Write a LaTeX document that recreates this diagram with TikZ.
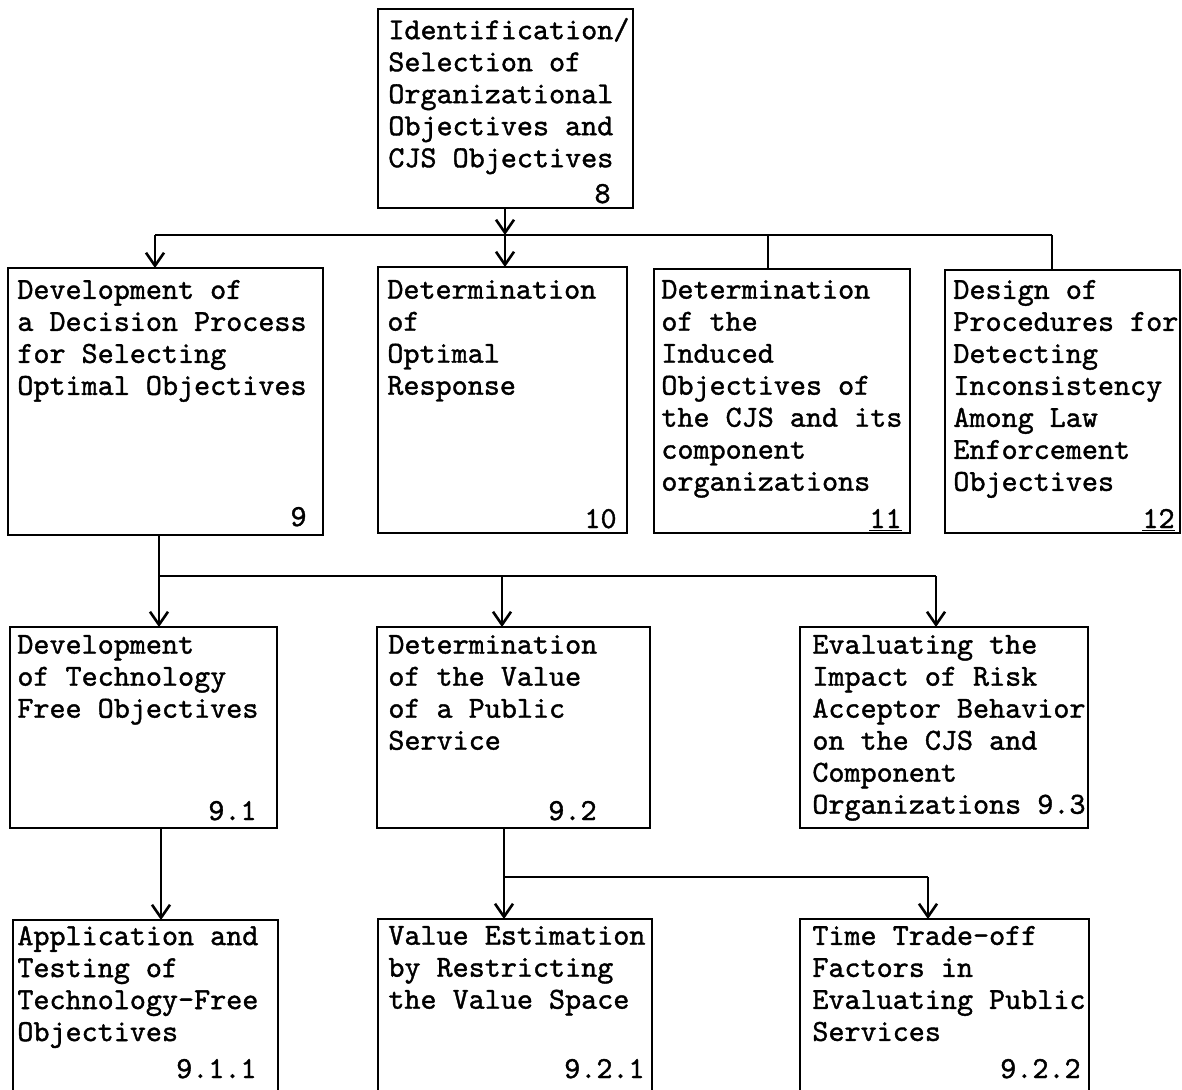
\documentclass[tikz,border=0pt]{standalone}
\usepackage{fontspec}
\newfontfamily\tw{lmmono10-regular}[Extension=.otf, FakeBold=1.2]
\usetikzlibrary{arrows.meta}

% box given by its corners (x1,y1) (x2,y2), in units of the picture grid
\newcommand\tbox[5]{%
  \node[bx, minimum width={(#4-(#2))*0.5pt}, minimum height={(#5-(#3))*0.5pt}]
    (#1) at ({(#2+#4)/2},{(#3+#5)/2}) {};}
% block of text whose first baseline sits at (x,y)
\newcommand\btext[4]{\node[txt] (#1) at (#2,{#3-22.4}) {#4};}
% item number, right end of its baseline at (x,y)
\newcommand\bnum[4]{\node[num] (#1) at (#2,#3) {#4};}

\tikzset{
  typed/.style={font=\tw\fontsize{15.3}{16}\selectfont},
  bx/.style={draw, rectangle, line width=1.3pt, inner sep=0pt, outer sep=0pt},
  txt/.style={typed, align=left, inner sep=0pt, anchor=north west,
              execute at begin node=\strut},
  num/.style={typed, inner sep=0pt, anchor=base east},
  ln/.style={line width=1.3pt},
  arr/.style={ln, -{Straight Barb[length=6.5pt, width=9pt]}}
}

\begin{document}
\begin{tikzpicture}[x=0.5pt, y=-0.5pt]
\useasboundingbox (0,0) rectangle (1182,1089);
\clip (0,0) rectangle (1182,1089);
\fill[white] (0,0) rectangle (1182,1089);

% ---- level 1
\tbox{b8}{378}{9}{633}{208}
\btext{t8}{388}{40}{Identification/\\Selection of\\Organizational\\Objectives and\\CJS Objectives}
\bnum{n8}{611}{203}{8}

% ---- level 2
\tbox{b9}{8}{268}{323}{535}
\btext{t9}{17}{302}{Development of\\a Decision Process\\for Selecting\\Optimal Objectives}
\bnum{n9}{307}{526}{9}

\tbox{b10}{378}{267}{627}{533}
\btext{t10}{387}{302}{Determination\\of\\Optimal\\Response}
\bnum{n10}{617}{528}{10}

\tbox{b11}{654}{269}{910}{533}
\btext{t11}{661}{302}{Determination\\of the\\Induced\\Objectives of\\the CJS and its\\component\\organizations}
\bnum{n11}{902}{528}{\underline{11}}

\tbox{b12}{945}{270}{1180}{533}
\btext{t12}{953}{302}{Design of\\Procedures for\\Detecting\\Inconsistency\\Among Law\\Enforcement\\Objectives}
\bnum{n12}{1175}{528}{\underline{12}}

% ---- level 3
\tbox{b91}{10}{627}{277}{828}
\btext{t91}{17}{657}{Development\\of Technology\\Free Objectives}
\bnum{n91}{257}{820}{9.1}

\tbox{b92}{377}{627}{650}{828}
\btext{t92}{388}{657}{Determination\\of the Value\\of a Public\\Service}
\bnum{n92}{597}{820}{9.2}

\tbox{b93}{800}{627}{1088}{828}
\btext{t93}{812}{657}{Evaluating the\\Impact of Risk\\Acceptor Behavior\\on the CJS and\\Component\\Organizations 9.3}

% ---- level 4 (boxes run on past the lower edge)
\tbox{b911}{13}{920}{278}{1110}
\btext{t911}{17}{948}{Application and\\Testing of\\Technology-Free\\Objectives}
\bnum{n911}{257}{1078}{9.1.1}

\tbox{b921}{378}{919}{652}{1110}
\btext{t921}{388}{948}{Value Estimation\\by Restricting\\the Value Space}
\bnum{n921}{645}{1078}{9.2.1}

\tbox{b922}{800}{919}{1089}{1110}
\btext{t922}{812}{948}{Time Trade-off\\Factors in\\Evaluating Public\\Services}
\bnum{n922}{1081}{1078}{9.2.2}

% ---- connectors
\coordinate (jA) at (155,235);
\coordinate (jB) at (505,235);
\coordinate (jC) at (768,235);
\coordinate (jD) at (1052,235);
\draw[arr] (jB |- b8.south) -- (jB);
\draw[ln] (jA) -- (jD);
\draw[arr] (jA) -- (jA |- b9.north);
\draw[arr] (jB) -- (jB |- b10.north);
\draw[ln] (jC) -- (jC |- b11.north);
\draw[ln] (jD) -- (jD |- b12.north);

\coordinate (kA) at (159,576);
\coordinate (kB) at (502,576);
\coordinate (kC) at (936,576);
\draw[ln] (kA |- b9.south) -- (kA) -- (kC);
\draw[arr] (kA) -- (kA |- b91.north);
\draw[arr] (kB) -- (kB |- b92.north);
\draw[arr] (kC) -- (kC |- b93.north);

\coordinate (m1) at (161,870);
\draw[arr] (m1 |- b91.south) -- (m1 |- b911.north);

\coordinate (nA) at (504,877);
\coordinate (nB) at (928,877);
\draw[ln] (nA |- b92.south) -- (nA) -- (nB);
\draw[arr] (nA) -- (nA |- b921.north);
\draw[arr] (nB) -- (nB |- b922.north);
\end{tikzpicture}
\end{document}
